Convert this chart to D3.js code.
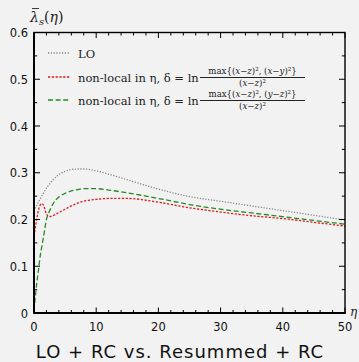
<!DOCTYPE html>
<html><head><meta charset="utf-8">
<script src="https://cdn.jsdelivr.net/npm/d3@7"></script>
<style>html,body{margin:0;padding:0;background:#f2f2f2;}svg{display:block;}</style>
</head><body>
<script>
const etaLO = [0, 0.5, 1, 1.5, 2, 3, 4, 5, 6, 7, 8, 10, 12, 15, 20, 25, 30, 35, 40, 45, 50];
const valLO = [0.218, 0.232, 0.244, 0.256, 0.267, 0.284, 0.296, 0.303, 0.307, 0.308, 0.308, 0.304, 0.297, 0.285, 0.265, 0.249, 0.239, 0.229, 0.219, 0.209, 0.199];
const etaNL = [0, 0.25, 0.5, 0.75, 1, 1.25, 1.5, 2, 2.5, 3, 4, 5, 6, 7, 8, 10, 12, 15, 20, 25, 30, 35, 40, 45, 50];
const valRed = [0.165, 0.185, 0.205, 0.222, 0.231, 0.234, 0.231, 0.212, 0.206, 0.208, 0.215, 0.222, 0.229, 0.235, 0.239, 0.243, 0.245, 0.245, 0.237, 0.225, 0.216, 0.208, 0.202, 0.194, 0.186];
const valGreen = [0.005, 0.04, 0.07, 0.095, 0.122, 0.142, 0.160, 0.200, 0.218, 0.232, 0.248, 0.256, 0.261, 0.264, 0.266, 0.266, 0.263, 0.257, 0.245, 0.232, 0.222, 0.214, 0.206, 0.198, 0.190];
const xTicks = [0, 10, 20, 30, 40, 50];
const yTicks = [0, 0.1, 0.2, 0.3, 0.4, 0.5, 0.6];
const yTickLabels = ["0", "0.1", "0.2", "0.3", "0.4", "0.5", "0.6"];
const legendLabels = ["LO", "non-local in η, δ = ln", "non-local in η, δ = ln"];
const numerators = [null,
  [["max{(", 0], ["x", 1], ["−", 0], ["z", 1], [")², (", 0], ["x", 1], ["−", 0], ["y", 1], [")²}", 0]],
  [["max{(", 0], ["x", 1], ["−", 0], ["z", 1], [")², (", 0], ["y", 1], ["−", 0], ["z", 1], [")²}", 0]]];
const denominator = [["(", 0], ["x", 1], ["−", 0], ["z", 1], [")²", 0]];
const title = "LO + RC vs. Resummed + RC";

const W = 359, H = 362;
const svg = d3.select("body").append("svg").attr("width", W).attr("height", H);
svg.append("rect").attr("width", W).attr("height", H).attr("fill", "#f2f2f2");

const L = 34, R = 345, T = 32.5, B = 313;
const x = d3.scaleLinear().domain([0, 50]).range([L, R]);
const y = d3.scaleLinear().domain([0, 0.6]).range([B, T]);

const sans = "'DejaVu Sans', sans-serif";
const serif = "'DejaVu Serif', 'Liberation Serif', serif";

svg.append("clipPath").attr("id", "clip").append("rect").attr("x", L).attr("y", T).attr("width", R - L).attr("height", B - T);

const g = svg.append("g").attr("clip-path", "url(#clip)");
const line = d3.line().x(d => x(d[0])).y(d => y(d[1])).curve(d3.curveMonotoneX);

const series = [
  {eta: etaLO, v: valLO, color: "#858585", dash: "1.2,1.6", w: 1.3},
  {eta: etaNL, v: valRed, color: "#e8141a", dash: "2.2,1.6", w: 1.3},
  {eta: etaNL, v: valGreen, color: "#238a23", dash: "5,2.6", w: 1.3}
];
series.forEach(s => {
  g.append("path").datum(s.eta.map((e, i) => [e, s.v[i]]))
    .attr("d", line).attr("fill", "none").attr("stroke", s.color)
    .attr("stroke-width", s.w).attr("stroke-dasharray", s.dash);
});

const ax = svg.append("g").attr("stroke", "#000").attr("stroke-width", 1);
d3.range(0, 51, 2).forEach(t => {
  const len = t % 10 === 0 ? 5.5 : 3;
  ax.append("line").attr("x1", x(t)).attr("x2", x(t)).attr("y1", B).attr("y2", B - len);
  ax.append("line").attr("x1", x(t)).attr("x2", x(t)).attr("y1", T).attr("y2", T + len);
});
d3.range(0, 13).forEach(i => {
  const t = i * 0.05;
  const len = i % 2 === 0 ? 6 : 3.2;
  ax.append("line").attr("y1", y(t)).attr("y2", y(t)).attr("x1", L).attr("x2", L + len);
  ax.append("line").attr("y1", y(t)).attr("y2", y(t)).attr("x1", R).attr("x2", R - len);
});
svg.append("rect").attr("x", L).attr("y", T).attr("width", R - L).attr("height", B - T)
  .attr("fill", "none").attr("stroke", "#000").attr("stroke-width", 1.4);
svg.append("line").attr("x1", L).attr("x2", L).attr("y1", T).attr("y2", B + 0.7).attr("stroke", "#000").attr("stroke-width", 2);
svg.append("line").attr("x1", L).attr("x2", R + 0.7).attr("y1", B).attr("y2", B).attr("stroke", "#000").attr("stroke-width", 2);

svg.append("g").selectAll("text").data(xTicks).join("text")
  .attr("x", d => x(d)).attr("y", 331).attr("text-anchor", "middle")
  .attr("font-family", sans).attr("font-size", 11.5).attr("fill", "#111").text(d => d);
svg.append("g").selectAll("text").data(yTicks).join("text")
  .attr("x", 28).attr("y", d => y(d) + 4.5).attr("text-anchor", "end")
  .attr("font-family", sans).attr("font-size", 11.5).attr("fill", "#111").text((d, i) => yTickLabels[i]);

const yl = svg.append("text").attr("x", 30).attr("y", 22).attr("font-family", serif).attr("font-size", 14).attr("font-style", "italic").attr("fill", "#222");
yl.append("tspan").text("λ");
yl.append("tspan").attr("font-size", 10).attr("dy", 3).text("s");
yl.append("tspan").attr("dy", -3).attr("font-style", "normal").text("(");
yl.append("tspan").text("η");
yl.append("tspan").attr("font-style", "normal").text(")");
svg.append("line").attr("x1", 32).attr("x2", 39).attr("y1", 8.5).attr("y2", 8.5).attr("stroke", "#222").attr("stroke-width", 0.9);

svg.append("text").attr("x", 350).attr("y", 316).attr("font-family", serif).attr("font-style", "italic")
  .attr("font-size", 12).attr("fill", "#222").text("η");

function mathText(parent, parts, cx, yy, size) {
  const t = parent.append("text").attr("x", cx).attr("y", yy).attr("text-anchor", "middle")
    .attr("font-family", serif).attr("font-size", size).attr("fill", "#222");
  parts.forEach(p => t.append("tspan").attr("font-style", p[1] ? "italic" : "normal").text(p[0]));
  return t;
}

const legY = [53, 77, 100];
series.forEach((s, i) => {
  svg.append("line").attr("x1", 48).attr("x2", 70).attr("y1", legY[i]).attr("y2", legY[i])
    .attr("stroke", s.color).attr("stroke-width", s.w).attr("stroke-dasharray", s.dash);
  svg.append("text").attr("x", 78).attr("y", legY[i] + 4.5).attr("font-family", serif)
    .attr("font-size", 11.5).attr("fill", "#222").text(legendLabels[i]);
  if (numerators[i]) {
    const cx = 252.5;
    mathText(svg, numerators[i], cx, legY[i] - 3.2, 8.6);
    svg.append("line").attr("x1", 200).attr("x2", 305).attr("y1", legY[i] + 0.5).attr("y2", legY[i] + 0.5)
      .attr("stroke", "#222").attr("stroke-width", 1.1);
    mathText(svg, denominator, cx, legY[i] + 8.8, 8.6);
  }
});

svg.append("text").attr("x", 180).attr("y", 358).attr("text-anchor", "middle")
  .attr("font-family", sans).attr("font-size", 18).attr("letter-spacing", 1).attr("fill", "#111").text(title);
</script>
</body></html>
